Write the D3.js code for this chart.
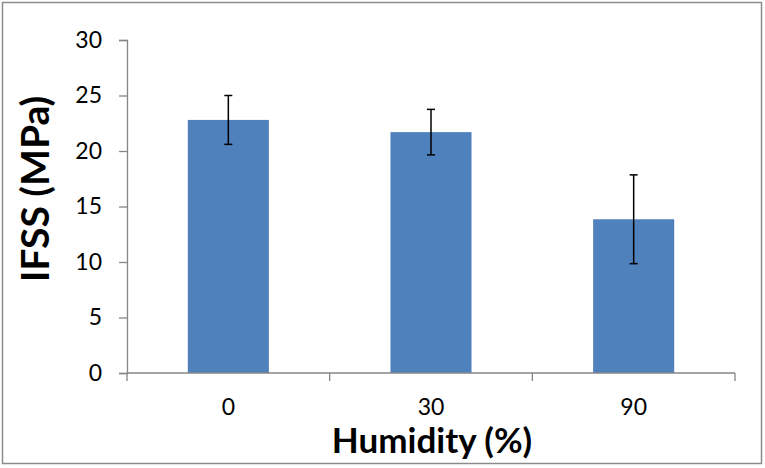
<!DOCTYPE html>
<html>
<head>
<meta charset="utf-8">
<script src="https://cdn.jsdelivr.net/npm/d3@7"></script>
<style>
  body { margin: 0; background: #fff; }
  svg { display: block; font-family: Lato, "Open Sans", sans-serif; }
</style>
</head>
<body>
<svg id="chart" width="765" height="468"></svg>
<script>
// humidity levels and measured IFSS
const categories = ['0', '30', '90'];
const ifss = [22.8, 21.7, 13.85];
const ifssErr = [2.2, 2.05, 4.0];
const yTicks = [0, 5, 10, 15, 20, 25, 30];

const svg = d3.select('#chart');
const plotL = 127, plotR = 735, plotT = 40, plotB = 373;
const axisColor = '#868686';

// outer frame
svg.append('rect')
    .attr('x', 2.5).attr('y', 2.5)
    .attr('width', 759).attr('height', 461)
    .attr('fill', 'none')
    .attr('stroke', '#8c8c8c')
    .attr('stroke-width', 1.5);

const x = d3.scaleBand().domain(categories).range([plotL, plotR]);
const y = d3.scaleLinear().domain([0, 30]).range([plotB, plotT]);

const barW = x.bandwidth() * 0.4;

// bars
svg.append('g')
    .selectAll('rect')
    .data(ifss)
    .join('rect')
    .attr('x', (d, i) => x(categories[i]) + (x.bandwidth() - barW) / 2)
    .attr('y', d => y(d))
    .attr('width', barW)
    .attr('height', d => y(0) - y(d))
    .attr('fill', '#4F81BD');

// error bars
const eb = svg.append('g').attr('stroke', '#000').attr('stroke-width', 1.5);
ifss.forEach((v, i) => {
    const cx = x(categories[i]) + x.bandwidth() / 2;
    const hi = y(v + ifssErr[i]), lo = y(v - ifssErr[i]);
    eb.append('line').attr('x1', cx).attr('x2', cx).attr('y1', hi).attr('y2', lo);
    eb.append('line').attr('x1', cx - 4).attr('x2', cx + 4).attr('y1', hi).attr('y2', hi);
    eb.append('line').attr('x1', cx - 4).attr('x2', cx + 4).attr('y1', lo).attr('y2', lo);
});

// y axis
const yAxis = svg.append('g')
    .attr('transform', `translate(${plotL},0)`)
    .call(d3.axisLeft(y).tickValues(yTicks).tickSize(8).tickPadding(17));
yAxis.select('.domain').attr('stroke', axisColor).attr('stroke-width', 1.3);
yAxis.selectAll('.tick line').attr('stroke', axisColor).attr('stroke-width', 1.3);
yAxis.selectAll('.tick text')
    .attr('fill', '#000')
    .style('font-size', '23px')
    .style('font-family', 'Lato, sans-serif');

// x axis: line plus boundary ticks, labels centred in bands
const xAxis = svg.append('g').attr('transform', `translate(0,${plotB})`);
xAxis.append('line')
    .attr('x1', plotL).attr('x2', plotR)
    .attr('stroke', axisColor).attr('stroke-width', 1.3);
const bounds = categories.map(c => x(c)).concat([plotR]);
xAxis.selectAll('line.tk')
    .data(bounds)
    .join('line')
    .attr('class', 'tk')
    .attr('x1', d => d).attr('x2', d => d)
    .attr('y1', 0).attr('y2', 8)
    .attr('stroke', axisColor).attr('stroke-width', 1.3);
xAxis.selectAll('text')
    .data(categories)
    .join('text')
    .attr('x', d => x(d) + x.bandwidth() / 2)
    .attr('y', 42)
    .attr('text-anchor', 'middle')
    .style('font-size', '23px')
    .text(d => d);

// axis titles
svg.append('text')
    .attr('x', 432).attr('y', 453)
    .attr('text-anchor', 'middle')
    .style('font-size', '35px')
    .style('font-weight', 'bold')
    .text('Humidity (%)');

svg.append('text')
    .attr('transform', 'translate(49,189) rotate(-90)')
    .attr('text-anchor', 'middle')
    .style('font-size', '39px')
    .style('font-weight', 'bold')
    .text('IFSS (MPa)');
</script>
</body>
</html>
